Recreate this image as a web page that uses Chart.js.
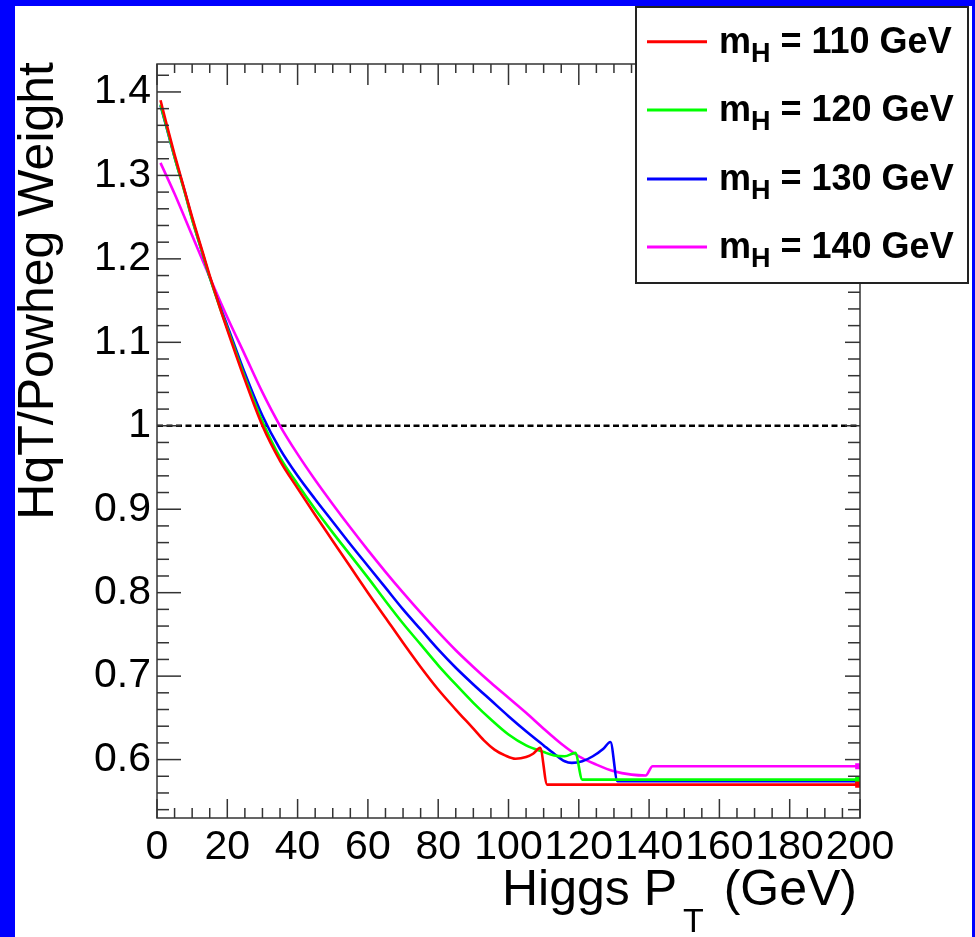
<!DOCTYPE html>
<html>
<head>
<meta charset="utf-8">
<script src="https://cdn.jsdelivr.net/npm/chart.js@4.4.1/dist/chart.umd.min.js"></script>
<style>
  html, body { margin: 0; padding: 0; width: 975px; height: 937px; overflow: hidden; background: #0000ff; }
  #wrap { position: absolute; left: 15px; top: 6px; width: 957px; height: 931px; background: #ffffff; }
  canvas { display: block; }
</style>
</head>
<body>
<div id="wrap"><canvas id="c" width="957" height="931"></canvas></div>
<script>
// Higgs masses and their line colours
const masses = [110, 120, 130, 140];
const seriesColors = ['#ff0000', '#00ff00', '#0000ff', '#ff00ff'];

// Axis tick labels
const xTicks = [0, 20, 40, 60, 80, 100, 120, 140, 160, 180, 200];
const yTicks = [0.6, 0.7, 0.8, 0.9, 1.0, 1.1, 1.2, 1.3, 1.4];

// Reference level drawn as a dashed line
const refX = [0, 200];
const refY = [1, 1];

// HqT / Powheg weight versus Higgs pT for each mass
const pt110 = [1, 3, 5, 8, 10, 13, 15, 18, 20, 25, 30, 35, 40, 45, 50, 55, 60, 65, 70, 75, 80, 85, 90, 93, 96, 99, 102, 105, 107, 109, 111, 199.5];
const w110  = [1.390, 1.357, 1.325, 1.280, 1.250, 1.208, 1.180, 1.140, 1.115, 1.055, 1.000, 0.958, 0.925, 0.893, 0.862, 0.831, 0.800, 0.770, 0.740, 0.711, 0.684, 0.660, 0.637, 0.623, 0.612, 0.605, 0.601, 0.603, 0.607, 0.614, 0.570, 0.570];

const pt120 = [1, 3, 5, 8, 10, 13, 15, 18, 20, 25, 30, 35, 40, 45, 50, 55, 60, 65, 70, 75, 80, 85, 90, 95, 100, 105, 110, 113, 116, 119, 121, 199.5];
const w120  = [1.385, 1.354, 1.322, 1.278, 1.247, 1.206, 1.178, 1.140, 1.117, 1.058, 1.005, 0.962, 0.930, 0.900, 0.872, 0.845, 0.818, 0.790, 0.763, 0.738, 0.713, 0.690, 0.668, 0.648, 0.630, 0.617, 0.609, 0.605, 0.604, 0.608, 0.576, 0.576];

const pt130 = [1, 3, 5, 8, 10, 13, 15, 18, 20, 25, 30, 35, 40, 45, 50, 55, 60, 65, 70, 75, 80, 85, 90, 95, 100, 105, 110, 113, 116, 118, 121, 124, 127, 129, 131, 199.5];
const w130  = [1.384, 1.353, 1.322, 1.279, 1.248, 1.206, 1.178, 1.142, 1.120, 1.063, 1.012, 0.972, 0.940, 0.912, 0.885, 0.858, 0.832, 0.806, 0.780, 0.756, 0.732, 0.710, 0.690, 0.671, 0.652, 0.634, 0.617, 0.607, 0.598, 0.596, 0.598, 0.604, 0.613, 0.621, 0.574, 0.574];

const pt140 = [1, 5, 10, 15, 20, 25, 30, 35, 40, 45, 50, 55, 60, 65, 70, 75, 80, 85, 90, 95, 100, 105, 110, 115, 120, 125, 130, 135, 139, 141, 199.5];
const w140  = [1.315, 1.278, 1.228, 1.178, 1.130, 1.085, 1.040, 1.000, 0.966, 0.935, 0.906, 0.878, 0.851, 0.825, 0.800, 0.776, 0.753, 0.731, 0.711, 0.692, 0.674, 0.656, 0.637, 0.619, 0.604, 0.594, 0.586, 0.582, 0.581, 0.592, 0.592];

const ptSeries = [pt110, pt120, pt130, pt140];
const wSeries  = [w110, w120, w130, w140];

const FONT = '"Liberation Sans", Arial, Helvetica, sans-serif';

function toPoints(xs, ys) {
  return xs.map((v, i) => ({ x: v, y: ys[i] }));
}

const datasets = masses.map((m, i) => ({
  label: 'm_H = ' + m + ' GeV',
  data: toPoints(ptSeries[i], wSeries[i]),
  borderColor: seriesColors[i],
  backgroundColor: seriesColors[i],
  borderWidth: 2.6,
  pointRadius: ctx => (ctx.dataIndex === ptSeries[i].length - 1 ? 2.5 : 0),
  pointStyle: 'rect',
  cubicInterpolationMode: 'monotone',
  fill: false
}));

datasets.push({
  label: 'unity',
  data: toPoints(refX, refY),
  borderColor: '#000000',
  borderWidth: 2.5,
  borderDash: [6, 3.5],
  pointRadius: 0,
  fill: false
});

// ROOT-style frame: box, inward major/minor ticks on all sides, axis titles, legend
const rootStyle = {
  id: 'rootStyle',
  afterDraw(chart) {
    const { ctx, chartArea: a, scales } = chart;
    const xs = scales.x, ys = scales.y;
    ctx.save();
    ctx.strokeStyle = '#333333';
    ctx.lineWidth = 1.5;
    ctx.strokeRect(a.left, a.top, a.right - a.left, a.bottom - a.top);

    const seg = (x1, y1, x2, y2) => { ctx.beginPath(); ctx.moveTo(x1, y1); ctx.lineTo(x2, y2); ctx.stroke(); };

    // x ticks every 5, majors every 20
    for (let k = 0; k <= 40; k++) {
      const v = k * 5;
      const px = xs.getPixelForValue(v);
      const major = (v % 20 === 0);
      seg(px, a.bottom, px, a.bottom - (major ? 19 : 10));
      seg(px, a.top, px, a.top + (major ? 21 : 9));
    }
    // y ticks every 0.02, majors every 0.1
    for (let k = 27; k <= 71; k++) {
      const v = k * 0.02;
      const py = ys.getPixelForValue(v);
      const major = (k % 5 === 0);
      seg(a.left, py, a.left + (major ? 24 : 12), py);
      seg(a.right, py, a.right - (major ? 15 : 12), py);
    }

    ctx.fillStyle = '#000000';
    // y title, right-aligned to the top of the frame
    ctx.save();
    ctx.translate(38, a.top - 2);
    ctx.rotate(-Math.PI / 2);
    ctx.font = '50px ' + FONT;
    ctx.textAlign = 'right';
    ctx.textBaseline = 'alphabetic';
    ctx.fillText('HqT/Powheg Weight', 0, 0);
    ctx.restore();

    // x title with subscript, right-aligned to the frame
    const base = 899;
    ctx.textBaseline = 'alphabetic';
    ctx.textAlign = 'left';
    ctx.font = '50px ' + FONT;
    const p1 = 'Higgs P', p3 = ' (GeV)';
    const w1 = ctx.measureText(p1).width;
    const w3 = ctx.measureText(p3).width;
    ctx.font = '34px ' + FONT;
    const w2 = ctx.measureText('T').width;
    const gap = 6;
    const right = a.right - 3;
    let x0 = right - (w1 + gap + w2 + gap + w3);
    ctx.font = '50px ' + FONT;
    ctx.fillText(p1, x0, base);
    ctx.font = '34px ' + FONT;
    ctx.fillText('T', x0 + w1 + gap, base + 27);
    ctx.font = '50px ' + FONT;
    ctx.fillText(p3, x0 + w1 + gap + w2 + gap, base);

    // legend
    const L = { left: 621, top: 1, right: 953, bottom: 277 };
    ctx.fillStyle = '#ffffff';
    ctx.fillRect(L.left, L.top, L.right - L.left, L.bottom - L.top);
    ctx.strokeStyle = '#222222';
    ctx.lineWidth = 2;
    ctx.strokeRect(L.left, L.top, L.right - L.left, L.bottom - L.top);
    const rowY = [35.7, 104, 173, 241];
    masses.forEach((m, i) => {
      const yy = rowY[i];
      ctx.strokeStyle = seriesColors[i];
      ctx.lineWidth = 3;
      seg(632, yy, 692, yy);
      ctx.fillStyle = '#000000';
      ctx.textAlign = 'left';
      ctx.font = 'bold 36px ' + FONT;
      let tx = 704;
      ctx.fillText('m', tx, yy + 11);
      tx += ctx.measureText('m').width;
      ctx.font = 'bold 27px ' + FONT;
      ctx.fillText('H', tx, yy + 20);
      tx += ctx.measureText('H').width;
      ctx.font = 'bold 36px ' + FONT;
      ctx.fillText(' = ' + m + ' GeV', tx, yy + 11);
    });
    ctx.restore();
  }
};

new Chart(document.getElementById('c'), {
  type: 'line',
  data: { datasets },
  plugins: [rootStyle],
  options: {
    responsive: false,
    animation: false,
    events: [],
    layout: { padding: { left: 0, top: 58, right: 112, bottom: 0 } },
    plugins: { legend: { display: false }, tooltip: { enabled: false } },
    scales: {
      x: {
        type: 'linear',
        min: 0,
        max: 200,
        grid: { display: false, drawTicks: false, tickLength: 0 },
        border: { display: false },
        afterBuildTicks: s => { s.ticks = xTicks.map(v => ({ value: v })); },
        afterFit: s => { s.height = 119; },
        ticks: {
          autoSkip: false,
          maxRotation: 0,
          minRotation: 0,
          padding: 5,
          color: '#000000',
          font: { family: FONT, size: 41 },
          callback: v => String(v)
        }
      },
      y: {
        type: 'linear',
        min: 0.53,
        max: 1.4335,
        grid: { display: false, drawTicks: false, tickLength: 0 },
        border: { display: false },
        afterBuildTicks: s => { s.ticks = yTicks.map(v => ({ value: v })); },
        afterFit: s => { s.width = 142; },
        ticks: {
          padding: 6,
          color: '#000000',
          font: { family: FONT, size: 41 },
          callback: v => String(Math.round(v * 10) / 10)
        }
      }
    }
  }
});
</script>
</body>
</html>
